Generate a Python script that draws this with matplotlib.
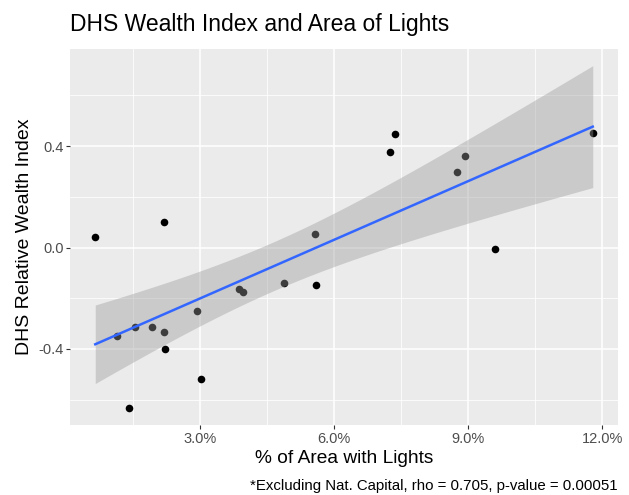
import numpy as np
import matplotlib
matplotlib.use("Agg")
import matplotlib.pyplot as plt
from matplotlib.ticker import FixedLocator, FuncFormatter

plt.rcParams['font.family'] = ['Liberation Sans', 'DejaVu Sans']

# Data (x in percent of area with lights)
area_pct = [0.664, 1.143, 1.546, 1.425, 1.940, 2.208, 2.201, 2.230, 2.935, 3.029,
            3.872, 3.957, 4.879, 5.573, 5.609, 7.264, 7.369, 8.763, 8.928, 9.613, 11.79]
wealth = [0.042, -0.350, -0.314, -0.631, -0.312, 0.101, -0.333, -0.401, -0.249, -0.518,
          -0.164, -0.176, -0.138, 0.053, -0.149, 0.375, 0.449, 0.298, 0.362, -0.006, 0.450]
x_ticks = [3, 6, 9, 12]
y_ticks = [-0.4, 0.0, 0.4]
title = "DHS Wealth Index and Area of Lights"
xlabel = "% of Area with Lights"
ylabel = "DHS Relative Wealth Index"
caption = "*Excluding Nat. Capital, rho = 0.705, p-value = 0.00051"

x = np.array(area_pct)
y = np.array(wealth)
n = len(x)
slope, intercept = np.polyfit(x, y, 1)
xs = np.linspace(x.min(), x.max(), 80)
ys = intercept + slope * xs
resid = y - (intercept + slope * x)
s = np.sqrt(np.sum(resid ** 2) / (n - 2))
sxx = np.sum((x - x.mean()) ** 2)
se = s * np.sqrt(1.0 / n + (xs - x.mean()) ** 2 / sxx)
tq = 2.093  # t(0.975, df=19)
lo = ys - tq * se
hi = ys + tq * se

fig = plt.figure(figsize=(6.29, 4.95), dpi=100)
ax = fig.add_axes([0.1119, 0.1420, 0.9819 - 0.1119, 0.9018 - 0.1420])
ax.set_facecolor('#EBEBEB')

ax.scatter(x, y, s=30, color='black', zorder=3, linewidths=0)
ax.fill_between(xs, lo, hi, color='#999999', alpha=0.4, linewidth=0, zorder=4)
ax.plot(xs, ys, color='#3366FF', linewidth=1.8, zorder=5)

xr = x.max() - x.min()
ax.set_xlim(x.min() - 0.05 * xr, x.max() + 0.05 * xr)
ymin = min(y.min(), lo.min())
ymax = max(y.max(), hi.max())
yr = ymax - ymin
ax.set_ylim(ymin - 0.05 * yr, ymax + 0.05 * yr)

ax.xaxis.set_major_locator(FixedLocator(x_ticks))
ax.xaxis.set_minor_locator(FixedLocator([1.5, 4.5, 7.5, 10.5]))
ax.yaxis.set_major_locator(FixedLocator(y_ticks))
ax.yaxis.set_minor_locator(FixedLocator([-0.6, -0.2, 0.2, 0.6]))
ax.xaxis.set_major_formatter(FuncFormatter(lambda v, p: f"{v:.1f}%"))
ax.yaxis.set_major_formatter(FuncFormatter(lambda v, p: f"{v:.1f}"))

ax.grid(which='major', color='white', linewidth=1.1, zorder=0)
ax.grid(which='minor', color='white', linewidth=0.55, zorder=0)
ax.set_axisbelow(True)
for sp in ax.spines.values():
    sp.set_visible(False)
ax.tick_params(which='major', length=3, width=0.8, color='#333333',
               labelcolor='#4D4D4D', labelsize=10.5, pad=2)
ax.tick_params(which='minor', length=0)

ax.set_xlabel(xlabel, fontsize=13.8, color='black', labelpad=3)
ax.set_ylabel(ylabel, fontsize=14, color='black', labelpad=4)
fig.text(0.1119, 0.950, title, fontsize=16.5, ha='left', va='center', color='black')
fig.text(0.9819, 0.004, caption, fontsize=10.8, ha='right', va='bottom', color='black')

fig.savefig('out.png', dpi=100)
